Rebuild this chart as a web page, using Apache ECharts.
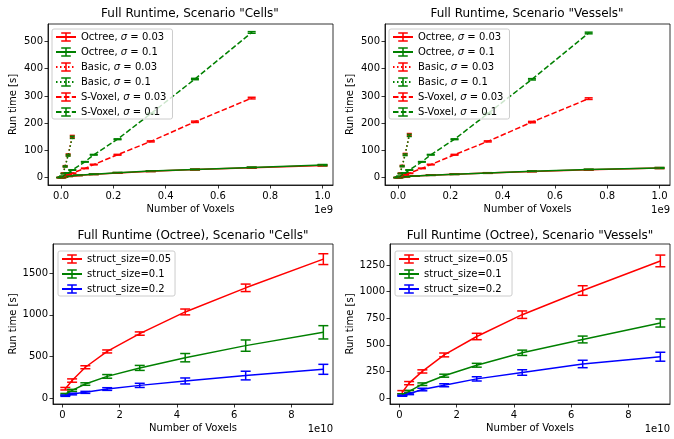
<!DOCTYPE html>
<html>
<head>
<meta charset="utf-8">
<script src="https://cdn.jsdelivr.net/npm/echarts@6/dist/echarts.min.js"></script>
<style>html,body{margin:0;padding:0;background:#fff}#chart{width:674px;height:439px}</style>
</head>
<body>
<div id="chart"></div>
<script>
// voxel counts: top row in units of 1e9, bottom row in units of 1e10
var octreeX = [0.001, 0.008, 0.027, 0.064, 0.125, 0.216, 0.343, 0.512, 0.729, 1.0];
var basicX = [0.001, 0.0034, 0.008, 0.0156, 0.027, 0.0429];
var svoxelX = [0.001, 0.008, 0.027, 0.0429, 0.091, 0.125, 0.216, 0.343, 0.512, 0.729];
var structX = [0.1, 0.3375, 0.8, 1.5625, 2.7, 4.2875, 6.4, 9.1125];

// Scenario "Cells"
var cellsOctree003 = [0.4, 2.3, 4.8, 8, 12, 17.5, 23.5, 29.5, 36.5, 45];
var cellsOctree003Err = [0.2, 0.4, 0.5, 0.7, 0.9, 1.1, 1.3, 1.5, 1.8, 2.2];
var cellsOctree01 = [0.4, 2.5, 5, 8.5, 12.5, 18, 24, 30, 37, 46];
var cellsOctree01Err = [0.2, 0.4, 0.5, 0.7, 0.9, 1.1, 1.3, 1.5, 1.8, 2.2];
var cellsBasic003 = [0.5, 3, 16, 42, 84, 151];
var cellsBasic003Err = [0.2, 0.5, 1, 2, 3, 4];
var cellsBasic01 = [0.5, 3, 15, 41, 82, 148];
var cellsBasic01Err = [0.2, 0.5, 1, 2, 3, 4];
var cellsSvoxel003 = [0.3, 3, 10, 16, 34, 48, 84, 133, 205, 292];
var cellsSvoxel003Err = [0.1, 0.3, 0.6, 0.8, 1, 1.2, 1.5, 2, 2.5, 3];
var cellsSvoxel01 = [0.5, 5, 17, 28, 58, 84, 141, 235, 362, 533];
var cellsSvoxel01Err = [0.1, 0.3, 0.6, 0.8, 1, 1.2, 1.5, 2, 2.5, 3];

// Scenario "Vessels"
var vesOctree003 = [0.3, 1.6, 3.6, 6, 9, 12.5, 17, 23, 29, 35];
var vesOctree003Err = [0.2, 0.3, 0.4, 0.5, 0.7, 0.9, 1.1, 1.3, 1.5, 1.8];
var vesOctree01 = [0.3, 1.5, 3.5, 6, 9, 12.5, 17, 23.5, 29.5, 35.5];
var vesOctree01Err = [0.2, 0.3, 0.4, 0.5, 0.7, 0.9, 1.1, 1.3, 1.5, 1.8];
var vesBasic003 = [0.5, 3, 16, 43, 86, 158];
var vesBasic003Err = [0.2, 0.5, 1, 2, 3, 4];
var vesBasic01 = [0.5, 3, 15, 42, 84, 155];
var vesBasic01Err = [0.2, 0.5, 1, 2, 3, 4];
var vesSvoxel003 = [0.3, 3, 10, 16, 34, 48, 84, 133, 204, 290];
var vesSvoxel003Err = [0.1, 0.3, 0.6, 0.8, 1, 1.2, 1.5, 2, 2.5, 3];
var vesSvoxel01 = [0.5, 5, 17, 28, 58, 84, 141, 235, 361, 531];
var vesSvoxel01Err = [0.1, 0.3, 0.6, 0.8, 1, 1.2, 1.5, 2, 2.5, 3];

// Octree, by struct_size
var cellsStruct005 = [112, 210, 370, 560, 775, 1035, 1325, 1670];
var cellsStruct005Err = [15, 20, 18, 18, 20, 35, 45, 65];
var cellsStruct01 = [45, 92, 168, 260, 362, 485, 630, 790];
var cellsStruct01Err = [10, 12, 15, 22, 30, 50, 68, 80];
var cellsStruct02 = [28, 48, 68, 108, 152, 205, 270, 345];
var cellsStruct02Err = [8, 10, 12, 16, 25, 36, 52, 60];

var vesStruct005 = [55, 140, 250, 405, 578, 783, 1010, 1288];
var vesStruct005Err = [15, 15, 15, 18, 30, 35, 45, 55];
var vesStruct01 = [32, 62, 130, 210, 308, 425, 550, 705];
var vesStruct01Err = [8, 10, 12, 14, 18, 25, 32, 38];
var vesStruct02 = [22, 40, 80, 120, 180, 240, 320, 388];
var vesStruct02Err = [5, 8, 12, 14, 20, 26, 35, 42];

var topXTicks = [0, 0.2, 0.4, 0.6, 0.8, 1.0];
var topYTicks = [0, 100, 200, 300, 400, 500];
var botXTicks = [0, 2, 4, 6, 8];
var cellsYTicks = [0, 500, 1000, 1500];
var vesYTicks = [0, 250, 500, 750, 1000, 1250];

var topNames = ['Octree, σ = 0.03', 'Octree, σ = 0.1', 'Basic, σ = 0.03', 'Basic, σ = 0.1', 'S-Voxel, σ = 0.03', 'S-Voxel, σ = 0.1'];
var botNames = ['struct_size=0.05', 'struct_size=0.1', 'struct_size=0.2'];

var RED = '#ff0000', GREEN = '#008000', BLUE = '#0000ff';
var FONT = 'DejaVu Sans';
var DASHED = [5.5, 2.4], DOTTED = [1.5, 2.5];
var BAR_ICON = 'path://M0,0 H10 V1.6 H5.8 V8.4 H10 V10 H0 V8.4 H4.2 V1.6 H0 Z';

var chart = echarts.init(document.getElementById('chart'), null, {renderer: 'canvas'});

var series = [];
function addErrorbar(gi, name, xs, ys, es, color, dash, cap) {
    series.push({
        name: name, type: 'line', xAxisIndex: gi, yAxisIndex: gi,
        data: xs.map(function (x, i) { return [x, ys[i]]; }),
        showSymbol: false, symbol: BAR_ICON, symbolKeepAspect: true,
        lineStyle: {color: color, width: 1.5, type: dash || 'solid'},
        itemStyle: {color: color},
        animation: false, silent: true
    });
    series.push({
        type: 'custom', xAxisIndex: gi, yAxisIndex: gi, silent: true, animation: false,
        data: xs.map(function (x, i) { return [x, ys[i] - es[i], ys[i] + es[i]]; }),
        renderItem: function (params, api) {
            var lo = api.coord([api.value(0), api.value(1)]);
            var hi = api.coord([api.value(0), api.value(2)]);
            var w = cap || 5;
            var st = {stroke: color, lineWidth: 1.5};
            return {type: 'group', children: [
                {type: 'line', shape: {x1: lo[0], y1: lo[1], x2: hi[0], y2: hi[1]}, style: st},
                {type: 'line', shape: {x1: lo[0] - w, y1: lo[1], x2: lo[0] + w, y2: lo[1]}, style: st},
                {type: 'line', shape: {x1: hi[0] - w, y1: hi[1], x2: hi[0] + w, y2: hi[1]}, style: st}
            ]};
        }
    });
}

addErrorbar(0, topNames[0], octreeX, cellsOctree003, cellsOctree003Err, RED, null, 5);
addErrorbar(0, topNames[1], octreeX, cellsOctree01, cellsOctree01Err, GREEN, null, 5);
addErrorbar(0, topNames[2], basicX, cellsBasic003, cellsBasic003Err, RED, DOTTED, 2.5);
addErrorbar(0, topNames[3], basicX, cellsBasic01, cellsBasic01Err, GREEN, DOTTED, 2.5);
addErrorbar(0, topNames[4], svoxelX, cellsSvoxel003, cellsSvoxel003Err, RED, DASHED, 4);
addErrorbar(0, topNames[5], svoxelX, cellsSvoxel01, cellsSvoxel01Err, GREEN, DASHED, 4);

addErrorbar(1, topNames[0], octreeX, vesOctree003, vesOctree003Err, RED, null, 5);
addErrorbar(1, topNames[1], octreeX, vesOctree01, vesOctree01Err, GREEN, null, 5);
addErrorbar(1, topNames[2], basicX, vesBasic003, vesBasic003Err, RED, DOTTED, 2.5);
addErrorbar(1, topNames[3], basicX, vesBasic01, vesBasic01Err, GREEN, DOTTED, 2.5);
addErrorbar(1, topNames[4], svoxelX, vesSvoxel003, vesSvoxel003Err, RED, DASHED, 4);
addErrorbar(1, topNames[5], svoxelX, vesSvoxel01, vesSvoxel01Err, GREEN, DASHED, 4);

addErrorbar(2, botNames[0], structX, cellsStruct005, cellsStruct005Err, RED);
addErrorbar(2, botNames[1], structX, cellsStruct01, cellsStruct01Err, GREEN);
addErrorbar(2, botNames[2], structX, cellsStruct02, cellsStruct02Err, BLUE);

addErrorbar(3, botNames[0], structX, vesStruct005, vesStruct005Err, RED);
addErrorbar(3, botNames[1], structX, vesStruct01, vesStruct01Err, GREEN);
addErrorbar(3, botNames[2], structX, vesStruct02, vesStruct02Err, BLUE);

var grids = [
    {left: 48, top: 24, width: 285, height: 161},
    {left: 385, top: 24, width: 285, height: 161},
    {left: 53, top: 244, width: 280, height: 160},
    {left: 390, top: 244, width: 280, height: 160}
];
grids.forEach(function (g) {
    g.show = true; g.borderColor = '#000'; g.borderWidth = 0.8; g.backgroundColor = 'transparent';
});

function xAxis(gi, min, max, ticks, digits) {
    return {
        type: 'value', gridIndex: gi, min: min, max: max,
        name: 'Number of Voxels', nameLocation: 'middle', nameGap: 19,
        nameTextStyle: {color: '#000', fontSize: 10, fontFamily: FONT},
        axisLine: {show: true, onZero: false, lineStyle: {color: '#000', width: 0.8}},
        splitLine: {show: false},
        axisTick: {show: true, inside: false, length: 3.5, lineStyle: {color: '#000', width: 0.8}, customValues: ticks},
        axisLabel: {customValues: ticks, margin: 6, color: '#000', fontSize: 10, fontFamily: FONT,
            formatter: function (v) { return v.toFixed(digits); }}
    };
}
function yAxis(gi, min, max, ticks, gap) {
    return {
        type: 'value', gridIndex: gi, min: min, max: max,
        name: 'Run time [s]', nameLocation: 'middle', nameGap: gap,
        nameTextStyle: {color: '#000', fontSize: 10, fontFamily: FONT},
        axisLine: {show: true, onZero: false, lineStyle: {color: '#000', width: 0.8}},
        splitLine: {show: false},
        axisTick: {show: true, inside: false, length: 3.5, lineStyle: {color: '#000', width: 0.8}, customValues: ticks},
        axisLabel: {customValues: ticks, margin: 5, color: '#000', fontSize: 10, fontFamily: FONT,
            formatter: function (v) { return String(v); }}
    };
}

function legend(names, left, top, right) {
    return {
        data: names, orient: 'vertical', left: left, top: top,
        itemWidth: 20, itemHeight: 12, itemGap: 5,
        padding: [3, right, 2, 3],
        backgroundColor: 'rgba(255,255,255,0.8)', borderColor: '#cccccc', borderWidth: 1, borderRadius: 2,
        textStyle: {color: '#000', fontSize: 10, fontFamily: FONT,
            rich: {i: {fontStyle: 'italic', fontSize: 10, fontFamily: FONT, color: '#000'}}},
        formatter: function (name) { return name.replace('σ', '{i|σ}'); },
        selectedMode: false
    };
}

var titleStyle = {color: '#000', fontSize: 12, fontWeight: 'normal', fontFamily: FONT};

chart.setOption({
    animation: false,
    title: [
        {text: 'Full Runtime, Scenario "Cells"', left: 190, top: 8, textAlign: 'center', padding: 0, textStyle: titleStyle},
        {text: 'Full Runtime, Scenario "Vessels"', left: 527, top: 8, textAlign: 'center', padding: 0, textStyle: titleStyle},
        {text: 'Full Runtime (Octree), Scenario "Cells"', left: 193, top: 230, textAlign: 'center', padding: 0, textStyle: titleStyle},
        {text: 'Full Runtime (Octree), Scenario "Vessels"', left: 530, top: 230, textAlign: 'center', padding: 0, textStyle: titleStyle}
    ],
    legend: [
        legend(topNames, 52, 29, 6),
        legend(topNames, 389, 29, 6),
        legend(botNames, 58, 251, 4),
        legend(botNames, 395, 251, 4)
    ],
    grid: grids,
    xAxis: [
        xAxis(0, -0.05, 1.04, topXTicks, 1),
        xAxis(1, -0.05, 1.04, topXTicks, 1),
        xAxis(2, -0.33, 9.45, botXTicks, 0),
        xAxis(3, -0.33, 9.45, botXTicks, 0)
    ],
    yAxis: [
        yAxis(0, -27, 564, topYTicks, 30),
        yAxis(1, -27, 564, topYTicks, 30),
        yAxis(2, -72, 1852, cellsYTicks, 33),
        yAxis(3, -56, 1447, vesYTicks, 34)
    ],
    graphic: [
        {type: 'text', right: 674 - 333, top: 205, style: {text: '1e9', fill: '#000', font: '10px "DejaVu Sans"'}},
        {type: 'text', right: 674 - 670, top: 205, style: {text: '1e9', fill: '#000', font: '10px "DejaVu Sans"'}},
        {type: 'text', right: 674 - 333, top: 424, style: {text: '1e10', fill: '#000', font: '10px "DejaVu Sans"'}},
        {type: 'text', right: 674 - 670, top: 424, style: {text: '1e10', fill: '#000', font: '10px "DejaVu Sans"'}}
    ],
    series: series
});
</script>
</body>
</html>
